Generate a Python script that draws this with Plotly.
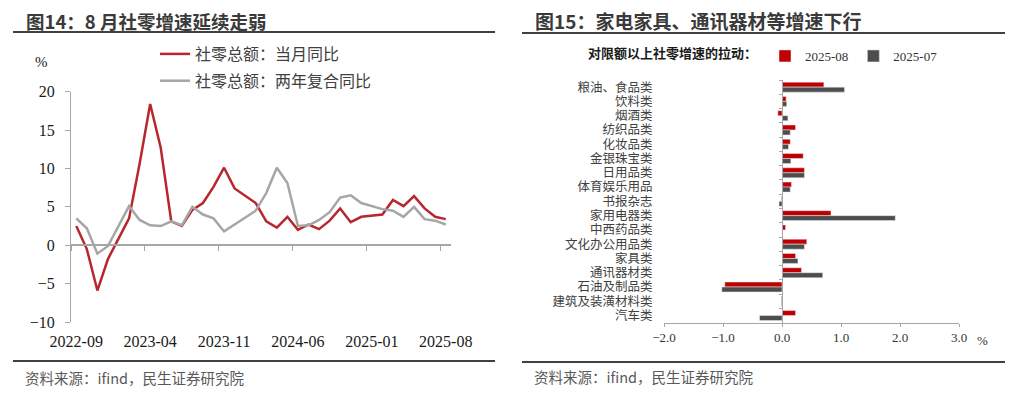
import plotly.graph_objects as go

# page has an 8px body margin: the figure is drawn at (8, 8) inside a 1024x397 window
OFF = 8
FW, FH = 1024 - OFF, 397 - OFF

# ---------------- data: left chart ----------------
months = ['2022-09', '2022-10', '2022-11', '2022-12', '2023-01', '2023-02', '2023-03', '2023-04',
          '2023-05', '2023-06', '2023-07', '2023-08', '2023-09', '2023-10', '2023-11', '2023-12',
          '2024-01', '2024-02', '2024-03', '2024-04', '2024-05', '2024-06', '2024-07', '2024-08',
          '2024-09', '2024-10', '2024-11', '2024-12', '2025-01', '2025-02', '2025-03', '2025-04',
          '2025-05', '2025-06', '2025-07', '2025-08']
retail_yoy = [2.5, -0.5, -5.9, -1.8, None, 3.5, 10.6, 18.4, 12.7, 3.1, 2.5, 4.6, 5.5, 7.6, 10.1, 7.4,
              None, 5.5, 3.1, 2.3, 3.7, 2.0, 2.7, 2.1, 3.2, 4.8, 3.0, 3.7, None, 4.0, 5.9, 5.1,
              6.4, 4.8, 3.7, 3.4]
retail_2y = [3.5, 2.2, -1.1, -0.1, None, 5.1, 3.3, 2.6, 2.5, 3.1, 2.6, 5.0, 4.0, 3.5, 1.8, 2.7,
             None, 4.5, 6.8, 10.1, 8.1, 2.5, 2.6, 3.3, 4.3, 6.2, 6.5, 5.5, None, 4.7, 4.5, 3.7,
             5.0, 3.4, 3.2, 2.7]
left_names = ['社零总额：当月同比', '社零总额：两年复合同比']
y_left_ticks = [-10, -5, 0, 5, 10, 15, 20]

# ---------------- data: right chart ----------------
categories = ['粮油、食品类', '饮料类', '烟酒类', '纺织品类', '化妆品类', '金银珠宝类', '日用品类',
              '体育娱乐用品', '书报杂志', '家用电器类', '中西药品类', '文化办公用品类', '家具类',
              '通讯器材类', '石油及制品类', '建筑及装潢材料类', '汽车类']
pull_2508 = [0.71, 0.07, -0.07, 0.23, 0.14, 0.36, 0.38, 0.16, -0.01, 0.83, 0.06, 0.42, 0.23,
             0.33, -0.97, -0.01, 0.23]
pull_2507 = [1.06, 0.08, 0.10, 0.14, 0.11, 0.15, 0.38, 0.14, -0.05, 1.92, 0.01, 0.38, 0.27,
             0.69, -1.02, -0.01, -0.38]
right_names = ['2025-08', '2025-07']
x_right_ticks = [-2.0, -1.0, 0.0, 1.0, 2.0, 3.0]

# ---------------- styling ----------------
RED_LINE = '#B8272D'
GREY_LINE = '#A6A6A6'
RED_BAR = '#C00000'
GREY_BAR = '#4D4D4D'
AXIS = '#A6A6A6'
SERIF = 'Liberation Serif, Noto Sans CJK SC'
SANS = 'Noto Sans CJK SC'


def px_x(p):
    return (p - OFF) / FW


def px_y(p):
    return 1 - (p - OFF) / FH


# left plot geometry (window pixels)
L_X0, L_X1 = 71, 451
L_YT, L_YB = 91.7, 322
left_ylo, left_yhi = -10, 20
zero_pos_left = px_y(L_YB) + (px_y(L_YT) - px_y(L_YB)) * (0 - left_ylo) / (left_yhi - left_ylo)

# right plot geometry (window pixels)
R_X0, R_X1 = 664, 959
R_YT, R_YB = 80, 322.7
right_xlo, right_xhi = -2, 3
zero_pos_right = px_x(R_X0) + (px_x(R_X1) - px_x(R_X0)) * (0 - right_xlo) / (right_xhi - right_xlo)

fig = go.Figure()

# left lines
fig.add_trace(go.Scatter(x=months, y=retail_yoy, mode='lines', name=left_names[0],
                         line=dict(color=RED_LINE, width=2.5), connectgaps=True,
                         xaxis='x', yaxis='y', legend='legend', legendgroup='a'))
fig.add_trace(go.Scatter(x=months, y=retail_2y, mode='lines', name=left_names[1],
                         line=dict(color=GREY_LINE, width=2.5), connectgaps=True,
                         xaxis='x', yaxis='y', legend='legend', legendgroup='b'))
# helper (invisible) trace for the zero-crossing x axis
fig.add_trace(go.Scatter(x=months, y=retail_yoy, mode='markers', marker=dict(opacity=0),
                         showlegend=False, hoverinfo='skip', xaxis='x3', yaxis='y'))

# right bars
fig.add_trace(go.Bar(y=categories, x=pull_2508, orientation='h', name=right_names[0],
                     marker=dict(color=RED_BAR), xaxis='x2', yaxis='y2', legend='legend2'))
fig.add_trace(go.Bar(y=categories, x=pull_2507, orientation='h', name=right_names[1],
                     marker=dict(color=GREY_BAR), xaxis='x2', yaxis='y2', legend='legend2'))
# helper (invisible) trace for the vertical zero axis
fig.add_trace(go.Scatter(y=categories, x=pull_2508, mode='markers', marker=dict(opacity=0),
                         showlegend=False, hoverinfo='skip', xaxis='x2', yaxis='y3'))

fig.update_layout(
    width=FW, height=FH,
    margin=dict(l=0, r=0, t=0, b=0, autoexpand=False),
    paper_bgcolor='white', plot_bgcolor='white',
    showlegend=True,
    barmode='group', bargap=0.3, bargroupgap=0,
    xaxis=dict(domain=[px_x(L_X0), px_x(L_X1)], anchor='y', type='category',
               range=[-0.5, len(months) - 0.5], tickmode='linear', tick0=0, dtick=7,
               showline=False, showgrid=False, zeroline=False,
               ticks='outside', ticklen=5, tickcolor='rgba(0,0,0,0)',
               tickfont=dict(family=SERIF, size=16, color='#1a1a1a')),
    xaxis3=dict(overlaying='x', anchor='free', position=zero_pos_left, type='category',
                range=[-0.5, len(months) - 0.5], tickmode='linear', tick0=0, dtick=7,
                tickson='boundaries', ticks='outside', ticklen=5, tickcolor=AXIS, tickwidth=1,
                showline=True, linecolor=AXIS, linewidth=1.5,
                showgrid=False, zeroline=False, showticklabels=False),
    yaxis=dict(domain=[px_y(L_YB), px_y(L_YT)], anchor='x', range=[left_ylo, left_yhi],
               tickmode='array', tickvals=y_left_ticks,
               showline=True, linecolor=AXIS, linewidth=1, showgrid=False, zeroline=False,
               ticks='outside', ticklen=5, tickcolor=AXIS, ticklabelstandoff=7,
               tickfont=dict(family=SERIF, size=16, color='#1a1a1a')),
    xaxis2=dict(domain=[px_x(R_X0), px_x(R_X1)], anchor='y2', range=[right_xlo, right_xhi],
                tickmode='array', tickvals=x_right_ticks, tickformat='.1f',
                showline=True, linecolor=AXIS, linewidth=1, showgrid=False, zeroline=False,
                ticks='outside', ticklen=3, tickcolor=AXIS,
                tickfont=dict(family=SERIF, size=13, color='#333333')),
    yaxis2=dict(domain=[px_y(R_YB), px_y(R_YT)], anchor='x2', type='category',
                range=[len(categories) - 0.5, -0.5], tickmode='linear', tick0=0, dtick=1,
                showline=False, showgrid=False, zeroline=False,
                ticks='outside', ticklen=8, tickcolor='rgba(0,0,0,0)',
                tickfont=dict(family=SERIF, size=12.5, color='#404040')),
    yaxis3=dict(overlaying='y2', anchor='free', position=zero_pos_right, side='left',
                type='category', range=[len(categories) - 0.5, -0.5], tickmode='linear',
                tick0=0, dtick=1,
                tickson='boundaries', ticks='outside', ticklen=3, tickcolor=AXIS,
                showline=True, linecolor=AXIS, linewidth=1,
                showgrid=False, zeroline=False, showticklabels=False),
    legend=dict(x=px_x(155), y=px_y(37), xanchor='left', yanchor='top',
                orientation='v', tracegroupgap=3, bgcolor='rgba(0,0,0,0)',
                font=dict(family=SERIF, size=16, color='#404040')),
    legend2=dict(x=px_x(586), y=px_y(56), xanchor='left', yanchor='middle',
                 orientation='h', bgcolor='rgba(0,0,0,0)',
                 title=dict(text='<b>对限额以上社零增速的拉动：</b>', side='left',
                            font=dict(family=SANS, size=13, color='#1a1a1a')),
                 font=dict(family=SERIF, size=13, color='#333333')),
)

# titles, separators, sources, units
title_font = dict(family=SANS, size=19, color='#3a3a3a')
fig.add_annotation(text='<b>图14：8 月社零增速延续走弱</b>', xref='paper', yref='paper',
                   x=px_x(24), y=px_y(21), xanchor='left', yanchor='middle',
                   showarrow=False, font=dict(family=SANS, size=18.5, color='#3a3a3a'))
fig.add_annotation(text='<b>图15：家电家具、通讯器材等增速下行</b>', xref='paper', yref='paper',
                   x=px_x(533), y=px_y(21), xanchor='left', yanchor='middle',
                   showarrow=False, font=title_font)

src_font = dict(family=SANS, size=14.5, color='#595959')
fig.add_annotation(text='资料来源：ifind，民生证券研究院', xref='paper', yref='paper',
                   x=px_x(23), y=px_y(377), xanchor='left', yanchor='middle',
                   showarrow=False, font=src_font)
fig.add_annotation(text='资料来源：ifind，民生证券研究院', xref='paper', yref='paper',
                   x=px_x(532), y=px_y(376), xanchor='left', yanchor='middle',
                   showarrow=False, font=src_font)

fig.add_annotation(text='%', xref='paper', yref='paper', x=px_x(41), y=px_y(62),
                   xanchor='center', yanchor='middle', showarrow=False,
                   font=dict(family=SERIF, size=15, color='#1a1a1a'))
fig.add_annotation(text='%', xref='paper', yref='paper', x=px_x(982), y=px_y(340),
                   xanchor='center', yanchor='middle', showarrow=False,
                   font=dict(family=SERIF, size=13, color='#333333'))

sep = dict(color='#404040', width=2)
for (xa, xb, yy) in [(13, 495, 32), (522, 1005, 33), (13, 495, 361), (522, 1005, 362)]:
    fig.add_shape(type='line', xref='paper', yref='paper', x0=px_x(xa), x1=px_x(xb),
                  y0=px_y(yy), y1=px_y(yy), line=sep)

fig.write_html('out.html')
